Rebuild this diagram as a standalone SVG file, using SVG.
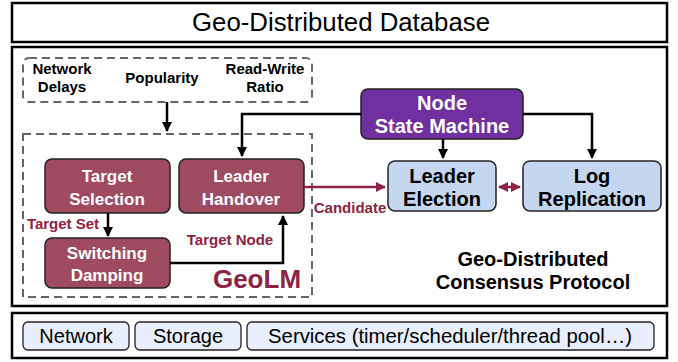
<svg xmlns="http://www.w3.org/2000/svg" width="678" height="362" viewBox="0 0 678 362">
<defs>
<style>
.frame{fill:#fff;stroke:#000;stroke-width:2.5}
.dash{fill:none;stroke:#666;stroke-width:2;stroke-dasharray:8,5}
.m{fill:#9e4a60;stroke:#222;stroke-width:1.5}
.p{fill:#7030a0;stroke:#222;stroke-width:1.5}
.b{fill:#c5d7f0;stroke:#222;stroke-width:1.5}
.s{fill:#e8eefb;stroke:#222;stroke-width:1.3}
text{font-family:"Liberation Sans",Arial,sans-serif;text-anchor:middle}
.bw{font-weight:bold;fill:#fff;font-size:17px}
.bw2{font-weight:bold;fill:#fff;font-size:20px}
.bk{font-weight:bold;fill:#000;font-size:15px}
.bb{font-weight:bold;fill:#000;font-size:20px}
.mr{font-weight:bold;fill:#8e2443;font-size:15px}
.n{fill:#000;font-size:20px}
.t{fill:#000;font-size:25px}
.k{fill:none;stroke:#000;stroke-width:2.5}
.r{fill:none;stroke:#8e2443;stroke-width:2.5}
</style>
<marker id="ak" viewBox="0 0 10 10" refX="9" refY="5" markerWidth="4" markerHeight="4" orient="auto-start-reverse"><path d="M0,0L10,5L0,10z" fill="#000"/></marker>
<marker id="ar" viewBox="0 0 10 10" refX="9" refY="5" markerWidth="4" markerHeight="4" orient="auto-start-reverse"><path d="M0,0L10,5L0,10z" fill="#8e2443"/></marker>
</defs>
<g id="database">
<rect class="frame" x="12" y="3" width="655" height="39"/>
<text class="t" x="341" y="31" textLength="298" lengthAdjust="spacingAndGlyphs">Geo-Distributed Database</text>
</g>
<g id="main">
<rect class="frame" x="12" y="47" width="655" height="259"/>
<text class="bb" x="533" y="266">Geo-Distributed</text>
<text class="bb" x="533" y="289">Consensus Protocol</text>
</g>
<g id="inputs">
<rect class="dash" x="23" y="58" width="289" height="44" rx="6"/>
<text class="bk" x="62" y="74">Network</text>
<text class="bk" x="62" y="92">Delays</text>
<text class="bk" x="162" y="83">Popularity</text>
<text class="bk" x="265" y="74">Read-Write</text>
<text class="bk" x="265" y="92">Ratio</text>
</g>
<g id="geolm">
<rect class="dash" x="23" y="134" width="289" height="163"/>
<text x="257" y="288" font-size="26" font-weight="bold" fill="#8e2443">GeoLM</text>
</g>
<g id="target-selection">
<rect class="m" x="45" y="159" width="125" height="54" rx="7"/>
<text class="bw" x="107" y="182">Target</text>
<text class="bw" x="107" y="205">Selection</text>
</g>
<g id="leader-handover">
<rect class="m" x="179" y="159" width="125" height="54" rx="7"/>
<text class="bw" x="241" y="182">Leader</text>
<text class="bw" x="241" y="205">Handover</text>
</g>
<g id="switching-damping">
<rect class="m" x="45" y="238" width="125" height="50" rx="7"/>
<text class="bw" x="107" y="259">Switching</text>
<text class="bw" x="107" y="281">Damping</text>
</g>
<g id="node-state-machine">
<rect class="p" x="361" y="89" width="162" height="50" rx="7"/>
<text class="bw2" x="442" y="110">Node</text>
<text class="bw2" x="442" y="133">State Machine</text>
</g>
<g id="leader-election">
<rect class="b" x="388" y="161" width="108" height="50" rx="7"/>
<text class="bb" x="442" y="183">Leader</text>
<text class="bb" x="442" y="206">Election</text>
</g>
<g id="log-replication">
<rect class="b" x="523" y="161" width="138" height="50" rx="7"/>
<text class="bb" x="592" y="183">Log</text>
<text class="bb" x="592" y="206">Replication</text>
</g>
<g id="platform">
<rect class="frame" x="12" y="313" width="655" height="45"/>
<rect class="s" x="23" y="322" width="106" height="28" rx="5"/>
<text class="n" x="76" y="343">Network</text>
<rect class="s" x="135" y="322" width="106" height="28" rx="5"/>
<text class="n" x="188" y="343">Storage</text>
<rect class="s" x="247" y="322" width="407" height="28" rx="5"/>
<text class="n" x="450" y="343" textLength="364" lengthAdjust="spacingAndGlyphs">Services (timer/scheduler/thread pool…)</text>
</g>
<g id="connectors">
<path class="k" d="M167,102V131" marker-end="url(#ak)"/>
<path class="k" d="M361,114H242V156" marker-end="url(#ak)"/>
<path class="k" d="M523,114H592V158" marker-end="url(#ak)"/>
<path class="k" d="M443,139V158" marker-end="url(#ak)"/>
<path class="k" d="M108,213V236" marker-end="url(#ak)"/>
<path class="k" d="M170,263H283V216" marker-end="url(#ak)"/>
<path class="r" d="M304,187H385" marker-end="url(#ar)"/>
<path class="r" d="M499,187H520" marker-start="url(#ar)" marker-end="url(#ar)"/>
<text class="mr" x="63" y="229">Target Set</text>
<text class="mr" x="230" y="245">Target Node</text>
<text class="mr" x="350" y="213">Candidate</text>
</g>
</svg>
